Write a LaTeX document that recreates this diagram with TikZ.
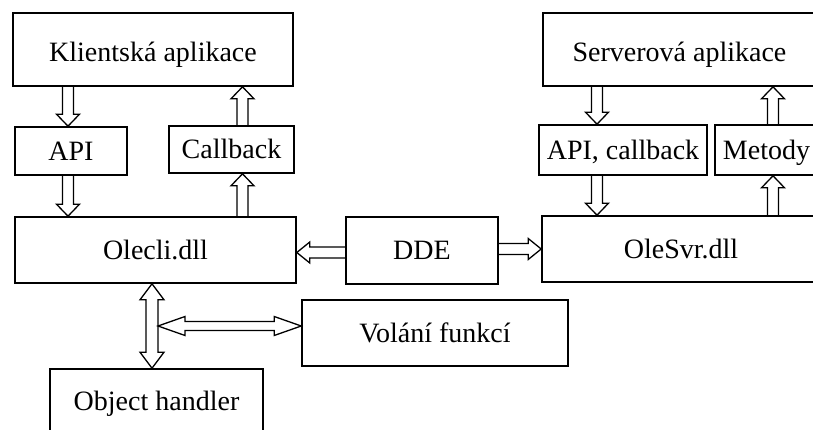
\documentclass[tikz,border=0pt]{standalone}
\usepackage{fontspec}
\setmainfont{Liberation Serif}
\usetikzlibrary{calc}
% single hollow block arrow: start, tip, shaft half-width, head half-width, head length
\newcommand\blkarrow[5]{%
  \coordinate (bA) at (#1); \coordinate (bB) at (#2);
  \draw[blk] ($(bA)!#3!90:(bB)$) -- ($(bB)!#5!(bA)!#3!90:(bB)$)
    -- ($(bB)!#5!(bA)!#4!90:(bB)$) -- (bB)
    -- ($(bB)!#5!(bA)!#4!-90:(bB)$) -- ($(bB)!#5!(bA)!#3!-90:(bB)$)
    -- ($(bA)!#3!-90:(bB)$);}
% double hollow block arrow
\newcommand\dblarrow[5]{%
  \coordinate (bA) at (#1); \coordinate (bB) at (#2);
  \draw[blk] (bA) -- ($(bA)!#5!(bB)!#4!90:(bB)$) -- ($(bA)!#5!(bB)!#3!90:(bB)$)
    -- ($(bB)!#5!(bA)!#3!90:(bB)$) -- ($(bB)!#5!(bA)!#4!90:(bB)$) -- (bB)
    -- ($(bB)!#5!(bA)!#4!-90:(bB)$) -- ($(bB)!#5!(bA)!#3!-90:(bB)$)
    -- ($(bA)!#5!(bB)!#3!-90:(bB)$) -- ($(bA)!#5!(bB)!#4!-90:(bB)$) -- cycle;}
\begin{document}
\begin{tikzpicture}[x=1pt,y=-1pt,
  box/.style={draw,line width=1.6pt,inner sep=0pt,text height=18.5pt,text depth=0pt,
    font=\fontsize{28}{30}\selectfont},
  lowtext/.style={text height=24.5pt},
  blk/.style={draw,line width=1.3pt,line join=miter}]
\useasboundingbox (0,0) rectangle (813,430);
\clip (0,0) rectangle (813,430);
\fill[white] (0,0) rectangle (813,430);
% boxes
\node[box,lowtext,minimum width=280pt,minimum height=73pt] (klient) at (153,49.5) {Klientská aplikace};
\node[box,minimum width=112pt,minimum height=48pt] (api) at (71,151) {API};
\node[box,minimum width=125pt,minimum height=47pt] (callback) at (231.5,149.5) {Callback};
\node[box,minimum width=281pt,minimum height=66pt] (olecli) at (155.5,250) {Olecli.dll};
\node[box,minimum width=152pt,minimum height=67pt] (dde) at (422,250.5) {DDE};
\node[box,minimum width=278pt,minimum height=66pt] (olesvr) at (681,249) {OleSvr.dll};
\node[box,minimum width=266pt,minimum height=66pt] (volani) at (435,333) {Volání funkcí};
\node[box,minimum width=213pt,minimum height=65pt] (objh) at (156.5,401.5) {Object handler};
\node[box,lowtext,minimum width=273pt,minimum height=73pt] (server) at (679.5,49.5) {Serverová aplikace};
\node[box,minimum width=168pt,minimum height=50pt] (apicb) at (623,150) {API, callback};
\node[box,minimum width=103pt,minimum height=50pt] (metody) at (766.5,150) {Metody};
% arrow guide coordinates
\coordinate (xa) at (68,0);
\coordinate (xb) at (242.5,0);
\coordinate (xc) at (597,0);
\coordinate (xd) at (773,0);
\coordinate (xe) at (152,0);
\coordinate (ya) at (0,252.5);
\coordinate (yb) at (0,249);
\coordinate (yc) at (0,326);
\coordinate (shaftR) at (158,326);
% arrows
\blkarrow{klient.south -| xa}{api.north -| xa}{5.5pt}{11.5pt}{12pt}
\blkarrow{api.south -| xa}{olecli.north -| xa}{5.5pt}{11.5pt}{12pt}
\blkarrow{olecli.north -| xb}{callback.south -| xb}{5.5pt}{11.5pt}{12pt}
\blkarrow{callback.north -| xb}{klient.south -| xb}{5.5pt}{11.5pt}{12pt}
\blkarrow{server.south -| xc}{apicb.north -| xc}{5.5pt}{11.5pt}{12pt}
\blkarrow{apicb.south -| xc}{olesvr.north -| xc}{5.5pt}{11.5pt}{12pt}
\blkarrow{olesvr.north -| xd}{metody.south -| xd}{5.5pt}{11.5pt}{12pt}
\blkarrow{metody.north -| xd}{server.south -| xd}{5.5pt}{11.5pt}{12pt}
\blkarrow{dde.west |- ya}{olecli.east |- ya}{5.5pt}{10.5pt}{13pt}
\blkarrow{dde.east |- yb}{olesvr.west |- yb}{5.5pt}{10.5pt}{13pt}
\dblarrow{olecli.south -| xe}{objh.north -| xe}{6pt}{12pt}{16pt}
\dblarrow{shaftR}{volani.west |- yc}{4.5pt}{9.5pt}{27pt}
\end{tikzpicture}
\end{document}
